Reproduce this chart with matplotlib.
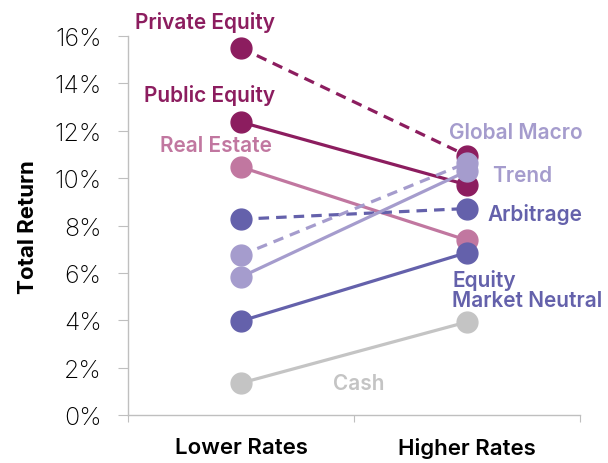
import matplotlib.pyplot as plt

# data
categories = ['Lower Rates', 'Higher Rates']
names = ['Private Equity', 'Public Equity', 'Real Estate', 'Cash',
         'Equity\nMarket Neutral', 'Arbitrage', 'Trend', 'Global Macro']
lower = [15.5, 12.37, 10.47, 1.35, 3.97, 8.27, 5.83, 6.75]
higher = [10.95, 9.72, 7.38, 3.93, 6.86, 8.72, 10.3, 10.65]
colors = ['#8C1D5F', '#8C1D5F', '#C177A0', '#C4C4C4',
          '#6461AB', '#6461AB', '#A59CCD', '#A59CCD']
styles = ['--', '-', '-', '-', '-', '--', '-', '--']

# label positions (x, y, ha)
label_pos = [(0.34, 16.63, 'center'), (0.363, 13.55, 'center'), (0.39, 11.4, 'center'),
             (1.02, 1.35, 'center'), (1.435, 5.3, 'left'), (1.59, 8.49, 'left'),
             (1.61, 10.13, 'left'), (1.717, 11.95, 'center')]

plt.rcParams['font.family'] = ['Inter', 'DejaVu Sans']

fig = plt.figure(figsize=(6.08, 4.64), dpi=100)
ax = fig.add_axes([0.2105, 0.1034, 0.7435, 0.8166])

xs = [0.5, 1.5]
for i in range(len(names)):
    ax.plot(xs, [lower[i], higher[i]], ls=styles[i], color=colors[i], lw=2.3,
            marker='o', ms=15, dashes=(3.3, 2.2) if styles[i] == '--' else (None, None),
            solid_capstyle='butt')
    x, y, ha = label_pos[i]
    ax.text(x, y, names[i], color=colors[i], fontsize=15, fontweight='semibold',
            ha=ha, va='center', linespacing=0.95)

ax.set_xlim(0, 2)
ax.set_ylim(0, 16)
ax.set_yticks(range(0, 17, 2))
ax.set_yticklabels([f'{v}%' for v in range(0, 17, 2)], fontsize=18, fontweight='light')
ax.set_xticks([0, 1, 2])
ax.set_xticklabels([])
ax.set_xticks(xs, minor=True)
ax.set_xticklabels(categories, minor=True, fontsize=16, fontweight='semibold')
ax.tick_params(axis='x', which='minor', length=0, pad=16)
ax.tick_params(axis='x', which='major', length=5, color='#BFBFBF', direction='out')
ax.tick_params(axis='y', length=7, color='#BFBFBF', pad=12)
ax.set_ylabel('Total Return', fontsize=16, fontweight='bold', labelpad=12)

for s in ['top', 'right']:
    ax.spines[s].set_visible(False)
for s in ['left', 'bottom']:
    ax.spines[s].set_color('#BFBFBF')
    ax.spines[s].set_linewidth(1)

for t in ax.texts:
    t.set_clip_on(False)
for l in ax.lines:
    l.set_clip_on(False)

fig.savefig('out.png', dpi=100)
